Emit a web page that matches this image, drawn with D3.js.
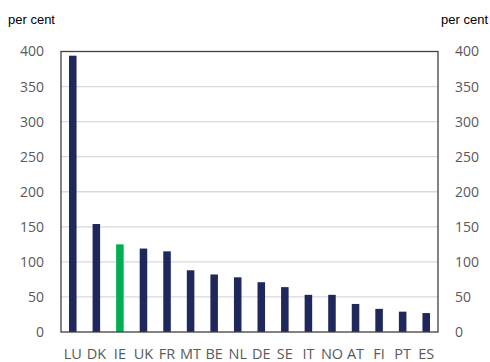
<!DOCTYPE html>
<html>
<head>
<meta charset="utf-8">
<script src="https://cdn.jsdelivr.net/npm/d3@7"></script>
<style>
  body { margin: 0; background: #fff; }
  svg { display: block; }
</style>
</head>
<body>
<div id="chart"></div>
<script>
const countries = ["LU","DK","IE","UK","FR","MT","BE","NL","DE","SE","IT","NO","AT","FI","PT","ES"]
const values = [394, 154, 125, 119, 115, 88, 82, 78, 71, 64, 53, 53, 40, 33, 29, 27]
const highlight = ["IE"]
const yTicks = [0, 50, 100, 150, 200, 250, 300, 350, 400]

const width = 490, height = 362
const margin = { top: 51.5, right: 52, bottom: 30, left: 61 }
const innerW = width - margin.left - margin.right
const innerH = height - margin.top - margin.bottom

const svg = d3.select("#chart").append("svg")
  .attr("width", width)
  .attr("height", height)

const x = d3.scaleBand()
  .domain(countries)
  .range([margin.left, margin.left + innerW])
  .paddingInner(0.68)
  .paddingOuter(0.34)

const y = d3.scaleLinear()
  .domain([0, 400])
  .range([margin.top + innerH, margin.top])

// gridlines
svg.append("g")
  .selectAll("line")
  .data(yTicks.filter(d => d > 0 && d < 400))
  .join("line")
  .attr("x1", margin.left)
  .attr("x2", margin.left + innerW)
  .attr("y1", d => y(d))
  .attr("y2", d => y(d))
  .attr("stroke", "#d9d9d9")
  .attr("stroke-width", 1.3)

// bars
svg.append("g")
  .selectAll("rect")
  .data(countries)
  .join("rect")
  .attr("x", d => x(d))
  .attr("width", x.bandwidth())
  .attr("y", (d, i) => y(values[i]))
  .attr("height", (d, i) => y(0) - y(values[i]))
  .attr("fill", d => highlight.includes(d) ? "#00b050" : "#1f285c")

// frame
svg.append("rect")
  .attr("x", margin.left)
  .attr("y", margin.top)
  .attr("width", innerW)
  .attr("height", innerH)
  .attr("fill", "none")
  .attr("stroke", "#404040")
  .attr("stroke-width", 1.3)

const tickFont = "'Open Sans', sans-serif"

// left axis
const left = svg.append("g")
  .attr("transform", `translate(${margin.left},0)`)
  .call(d3.axisLeft(y).tickValues(yTicks).tickSize(0).tickPadding(17))
left.select(".domain").remove()
left.selectAll("text")
  .attr("font-family", tickFont)
  .attr("font-size", 14)
  .attr("fill", "#595959")

// right axis
const right = svg.append("g")
  .attr("transform", `translate(${margin.left + innerW},0)`)
  .call(d3.axisRight(y).tickValues(yTicks).tickSize(0).tickPadding(17))
right.select(".domain").remove()
right.selectAll("text")
  .attr("font-family", tickFont)
  .attr("font-size", 14)
  .attr("fill", "#595959")

// x axis labels
const bottom = svg.append("g")
  .attr("transform", `translate(0,${margin.top + innerH})`)
  .call(d3.axisBottom(x).tickSize(0).tickPadding(17))
bottom.select(".domain").remove()
bottom.selectAll("text")
  .attr("font-family", tickFont)
  .attr("font-size", 14.5)
  .attr("fill", "#595959")

// unit labels
svg.append("text")
  .attr("x", 8)
  .attr("y", 24)
  .attr("font-family", "'Liberation Sans', Arial, sans-serif")
  .attr("font-size", 13)
  .attr("fill", "#000")
  .text("per cent")

svg.append("text")
  .attr("x", 488)
  .attr("y", 24)
  .attr("text-anchor", "end")
  .attr("font-family", "'Liberation Sans', Arial, sans-serif")
  .attr("font-size", 13)
  .attr("fill", "#000")
  .text("per cent")
</script>
</body>
</html>
